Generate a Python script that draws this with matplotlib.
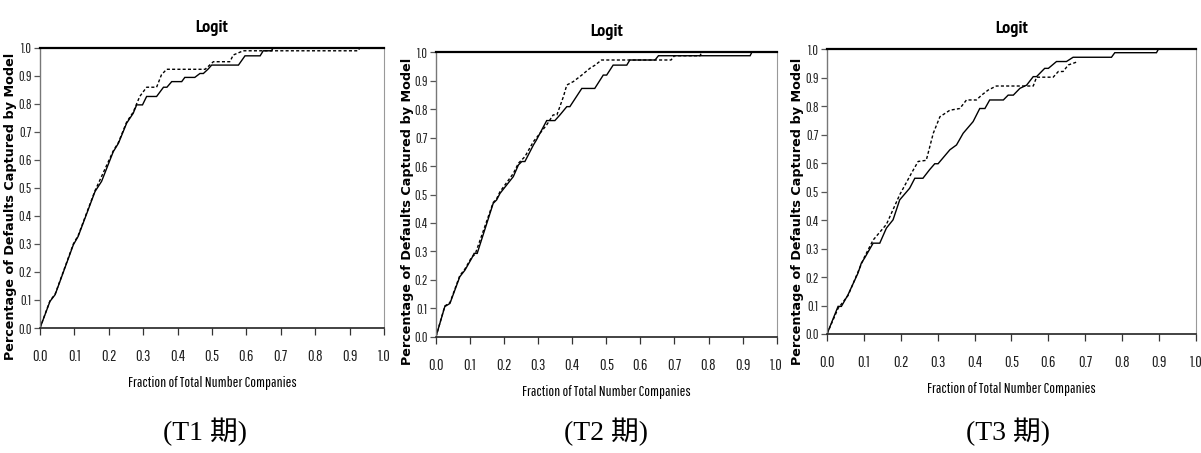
import matplotlib
matplotlib.use("Agg")
from matplotlib import pyplot as plt

# ---- Data (cumulative accuracy profiles) ----
t1_solid_x = [0, 0.029, 0.044, 0.097, 0.111, 0.160, 0.179, 0.213, 0.228, 0.252, 0.271, 0.281,
              0.298, 0.310, 0.339, 0.359, 0.369, 0.383, 0.412, 0.421, 0.450, 0.465, 0.475,
              0.489, 0.499, 0.577, 0.596, 0.640, 0.649, 0.673, 0.678, 1.0]
t1_solid_y = [0, 0.095, 0.119, 0.297, 0.327, 0.487, 0.523, 0.629, 0.659, 0.731, 0.766, 0.796,
              0.796, 0.826, 0.826, 0.859, 0.859, 0.879, 0.879, 0.894, 0.894, 0.908, 0.908,
              0.924, 0.938, 0.938, 0.971, 0.971, 0.989, 0.989, 1.0, 1.0]
t1_dash_x = [0, 0.029, 0.044, 0.097, 0.111, 0.160, 0.175, 0.213, 0.228, 0.252, 0.271, 0.281,
             0.290, 0.310, 0.339, 0.353, 0.368, 0.480, 0.504, 0.552, 0.562, 0.591, 0.925, 0.930]
t1_dash_y = [0, 0.097, 0.121, 0.300, 0.330, 0.490, 0.530, 0.632, 0.662, 0.735, 0.770, 0.800,
             0.826, 0.859, 0.859, 0.903, 0.923, 0.923, 0.950, 0.950, 0.974, 0.989, 0.989, 1.0]

t2_solid_x = [0, 0.026, 0.041, 0.070, 0.085, 0.105, 0.112, 0.121, 0.168, 0.178, 0.188, 0.227,
              0.242, 0.252, 0.261, 0.286, 0.295, 0.325, 0.349, 0.364, 0.384, 0.393, 0.428,
              0.466, 0.491, 0.501, 0.520, 0.560, 0.569, 0.643, 0.653, 0.922, 0.927, 1.0]
t2_solid_y = [0, 0.106, 0.117, 0.211, 0.234, 0.276, 0.293, 0.293, 0.469, 0.481, 0.504, 0.563,
              0.604, 0.616, 0.616, 0.674, 0.692, 0.760, 0.760, 0.780, 0.809, 0.809, 0.873,
              0.873, 0.920, 0.920, 0.955, 0.955, 0.973, 0.973, 0.988, 0.988, 1.0, 1.0]
t2_dash_x = [0, 0.026, 0.041, 0.070, 0.085, 0.105, 0.115, 0.168, 0.178, 0.188, 0.227, 0.242,
             0.261, 0.286, 0.325, 0.344, 0.355, 0.374, 0.384, 0.403, 0.428, 0.452, 0.467,
             0.486, 0.690, 0.700, 0.775, 0.780]
t2_dash_y = [0, 0.108, 0.120, 0.215, 0.238, 0.280, 0.290, 0.472, 0.485, 0.510, 0.574, 0.610,
             0.633, 0.686, 0.745, 0.780, 0.780, 0.844, 0.885, 0.897, 0.920, 0.944, 0.955,
             0.973, 0.973, 0.988, 0.988, 1.0]

t3_solid_x = [0, 0.030, 0.039, 0.057, 0.084, 0.093, 0.102, 0.125, 0.143, 0.161, 0.179, 0.197,
              0.224, 0.238, 0.260, 0.278, 0.292, 0.301, 0.333, 0.351, 0.369, 0.396, 0.414,
              0.428, 0.441, 0.478, 0.491, 0.505, 0.523, 0.541, 0.559, 0.568, 0.590, 0.600,
              0.622, 0.649, 0.667, 0.771, 0.780, 0.893, 0.898, 1.0]
t3_solid_y = [0, 0.097, 0.097, 0.138, 0.214, 0.249, 0.267, 0.319, 0.319, 0.372, 0.401, 0.471,
              0.512, 0.547, 0.547, 0.577, 0.598, 0.598, 0.647, 0.664, 0.705, 0.746, 0.792,
              0.792, 0.822, 0.822, 0.839, 0.839, 0.863, 0.874, 0.904, 0.904, 0.933, 0.933,
              0.957, 0.957, 0.972, 0.972, 0.988, 0.988, 1.0, 1.0]
t3_dash_x = [0, 0.030, 0.057, 0.084, 0.102, 0.125, 0.161, 0.197, 0.229, 0.247, 0.269, 0.288,
             0.306, 0.333, 0.360, 0.378, 0.405, 0.419, 0.437, 0.459, 0.559, 0.568, 0.613,
             0.627, 0.640, 0.654, 0.681]
t3_dash_y = [0, 0.090, 0.135, 0.218, 0.272, 0.330, 0.385, 0.489, 0.565, 0.606, 0.610, 0.705,
             0.763, 0.786, 0.792, 0.822, 0.822, 0.839, 0.857, 0.871, 0.871, 0.902, 0.902,
             0.922, 0.922, 0.945, 0.957]

ticks = [0.0, 0.1, 0.2, 0.3, 0.4, 0.5, 0.6, 0.7, 0.8, 0.9, 1.0]
tick_labels = [f"{t:.1f}" for t in ticks]
panel_title = "Logit"
x_label = "Fraction of Total Number Companies"
y_label = "Percentage of Defaults Captured by Model"
captions = ["(T1 期)", "(T2 期)", "(T3 期)"]

narrow = ["Pathway Gothic One", "DejaVu Sans"]
narrow_bold = ["PT Sans Narrow", "DejaVu Sans"]

# ---- Layout (figure fractions) ----
axes_rects = [
    [0.0333, 0.2759, 0.2864, 0.6188],
    [0.3630, 0.2567, 0.2837, 0.6278],
    [0.6886, 0.2627, 0.3072, 0.6285],
]
curves = [
    (t1_solid_x, t1_solid_y, t1_dash_x, t1_dash_y),
    (t2_solid_x, t2_solid_y, t2_dash_x, t2_dash_y),
    (t3_solid_x, t3_solid_y, t3_dash_x, t3_dash_y),
]
ylabel_x = [11, 408, 798]
ylabel_y = [206, 211, 211]
caption_x = [205, 606, 1008]

W, H = 1201, 453
fig = plt.figure(figsize=(W / 100, H / 100), dpi=100)

for i, rect in enumerate(axes_rects):
    ax = fig.add_axes(rect)
    sx, sy, dx, dy = curves[i]
    ax.plot(sx, sy, color="black", lw=1.0, solid_joinstyle="miter")
    ax.plot(dx, dy, color="black", lw=1.0, linestyle=(0, (2.2, 1.6)))

    ax.set_xlim(0, 1)
    ax.set_ylim(0, 1)
    ax.set_xticks(ticks)
    ax.set_yticks(ticks)
    ax.set_xticklabels(tick_labels, family=narrow, fontsize=11.5, color="#222222")
    ax.set_yticklabels(tick_labels, family=narrow, fontsize=10, color="#222222")
    ax.tick_params(axis="x", length=5, width=0.9, pad=10, color="#333333")
    ax.tick_params(axis="y", length=4, width=0.9, pad=2, color="#555555")

    ax.spines["top"].set_color("black")
    ax.spines["top"].set_linewidth(1.6)
    ax.spines["bottom"].set_color("#222222")
    ax.spines["bottom"].set_linewidth(1.2)
    ax.spines["left"].set_color("#777777")
    ax.spines["left"].set_linewidth(1.0)
    ax.spines["right"].set_color("#999999")
    ax.spines["right"].set_linewidth(0.8)

    left, bottom, width, height = rect
    cx = left + width / 2
    ax_top_px = H * (1 - (bottom + height))
    ax_bot_px = H * (1 - bottom)

    fig.text(cx, 1 - (ax_top_px - 20) / H, panel_title, ha="center", va="center",
             family=narrow_bold, fontweight="bold", fontsize=13)
    fig.text(cx, 1 - (ax_bot_px + 55) / H, x_label, ha="center", va="center",
             family=narrow, fontsize=11)
    fig.text(ylabel_x[i] / W, 1 - ylabel_y[i] / H, y_label, ha="center", va="center",
             rotation=90, family="DejaVu Sans", fontweight="bold", fontsize=9.2)
    fig.text(caption_x[i] / W, 1 - 432 / H, captions[i], ha="center", va="center",
             family=["Liberation Serif", "Noto Sans CJK SC"], fontsize=20)

fig.savefig("out.png", dpi=100)
